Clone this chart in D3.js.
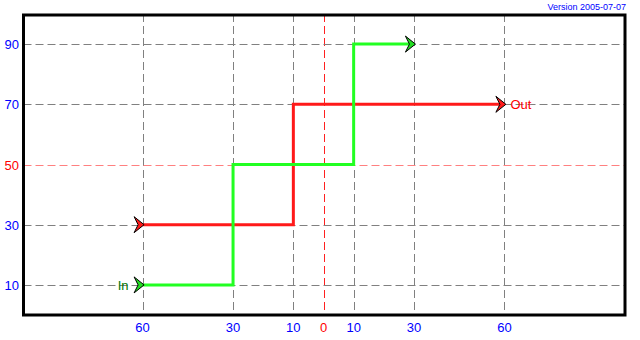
<!DOCTYPE html>
<html lang="en">
<head>
    <meta charset="UTF-8">
    <title>In / Out steps</title>
    <script src="https://cdn.jsdelivr.net/npm/d3@7"></script>
    <style>
        body { margin: 0; background: #fff; }
        text { font-family: "Liberation Sans", Arial, sans-serif; }
    </style>
</head>
<body>
    <div id="vis"></div>
    <script>

        var width = 640;
        var height = 340;

        // tick values
        var xTicks = [-60, -30, -10, 0, 10, 30, 60];
        var yTicks = [10, 30, 50, 70, 90];

        // step series (x, y)
        var inX = [-60, -30, -30, 10, 10, 30];
        var inY = [10, 10, 50, 50, 90, 90];
        var outX = [-60, -10, -10, 60];
        var outY = [30, 30, 70, 70];

        var svg = d3.select("#vis")
            .append("svg")
            .attr('width', width)
            .attr('height', height);

        var x_scale = d3.scaleLinear()
            .domain([-100, 100])
            .range([22, 625]);

        var y_scale = d3.scaleLinear()
            .domain([0, 100])
            .range([315, 14]);

        // version text
        svg.append('text')
            .attr('x', 626)
            .attr('y', 10)
            .attr('text-anchor', 'end')
            .attr('font-size', '9px')
            .attr('fill', '#0000ff')
            .text('Version 2005-07-07');

        // grid
        svg.selectAll('.vgrid')
            .data(xTicks)
            .enter()
            .append('line')
            .attr('class', 'vgrid')
            .attr('x1', function(d){ return Math.round(x_scale(d)) + 0.5; })
            .attr('x2', function(d){ return Math.round(x_scale(d)) + 0.5; })
            .attr('y1', y_scale(100))
            .attr('y2', y_scale(0))
            .attr('stroke', function(d){ return d == 0 ? '#ff2020' : '#808080'; })
            .attr('stroke-width', 1)
            .attr('stroke-dasharray', '8,4');

        svg.selectAll('.hgrid')
            .data(yTicks)
            .enter()
            .append('line')
            .attr('class', 'hgrid')
            .attr('x1', 23.5)
            .attr('x2', 625)
            .attr('y1', function(d){ return Math.round(y_scale(d)) + 0.5; })
            .attr('y2', function(d){ return Math.round(y_scale(d)) + 0.5; })
            .attr('stroke', function(d){ return d == 50 ? '#ff8080' : '#808080'; })
            .attr('stroke-width', 1)
            .attr('stroke-dasharray', '8,4');

        // frame
        svg.append('rect')
            .attr('x', 23.5)
            .attr('y', y_scale(100) + 1)
            .attr('width', 625 - 23.5)
            .attr('height', y_scale(0) - y_scale(100) - 1)
            .attr('fill', 'none')
            .attr('stroke', '#000')
            .attr('stroke-width', 3);

        // tick labels
        svg.selectAll('.xlabel')
            .data(xTicks)
            .enter()
            .append('text')
            .attr('class', 'xlabel')
            .attr('x', function(d){ return x_scale(d); })
            .attr('y', 332)
            .attr('text-anchor', 'middle')
            .attr('font-size', '13px')
            .attr('fill', function(d){ return d == 0 ? '#ff0000' : '#0000ff'; })
            .text(function(d){ return Math.abs(d); });

        svg.selectAll('.ylabel')
            .data(yTicks)
            .enter()
            .append('text')
            .attr('class', 'ylabel')
            .attr('x', 19)
            .attr('y', function(d){ return y_scale(d) + 5; })
            .attr('text-anchor', 'end')
            .attr('font-size', '13px')
            .attr('fill', function(d){ return d == 50 ? '#ff0000' : '#0000ff'; })
            .text(function(d){ return d; });

        var line = d3.line()
            .x(function(d){ return x_scale(d[0]); })
            .y(function(d){ return y_scale(d[1]); });

        var inPts = d3.zip(inX, inY);
        var outPts = d3.zip(outX, outY);

        svg.append('path')
            .attr('d', line(outPts))
            .attr('fill', 'none')
            .attr('stroke', '#ff1a1a')
            .attr('stroke-width', 3);

        svg.append('path')
            .attr('d', line(inPts))
            .attr('fill', 'none')
            .attr('stroke', '#22ff22')
            .attr('stroke-width', 3);

        // arrow heads pointing right, tip at given point
        function arrow(p, fill) {
            var px = x_scale(p[0]) + 1.5;
            var py = y_scale(p[1]);
            svg.append('path')
                .attr('d', 'M' + px + ',' + py +
                    'L' + (px - 10) + ',' + (py - 8) +
                    'L' + (px - 6) + ',' + py +
                    'L' + (px - 10) + ',' + (py + 8) + 'Z')
                .attr('fill', fill)
                .attr('stroke', '#000')
                .attr('stroke-width', 1)
                .attr('stroke-linejoin', 'round');
        }

        arrow(inPts[0], '#22dd22');
        arrow(inPts[inPts.length - 1], '#22dd22');
        arrow(outPts[0], '#ff1a1a');
        arrow(outPts[outPts.length - 1], '#ff1a1a');

        svg.append('text')
            .attr('x', x_scale(inX[0]) - 14)
            .attr('y', y_scale(inY[0]) + 5)
            .attr('text-anchor', 'end')
            .attr('font-size', '13px')
            .attr('fill', '#007700')
            .text('In');

        svg.append('text')
            .attr('x', x_scale(outX[outX.length - 1]) + 6)
            .attr('y', y_scale(outY[outY.length - 1]) + 5)
            .attr('font-size', '13px')
            .attr('fill', '#ff0000')
            .text('Out');

    </script>
</body>
</html>
